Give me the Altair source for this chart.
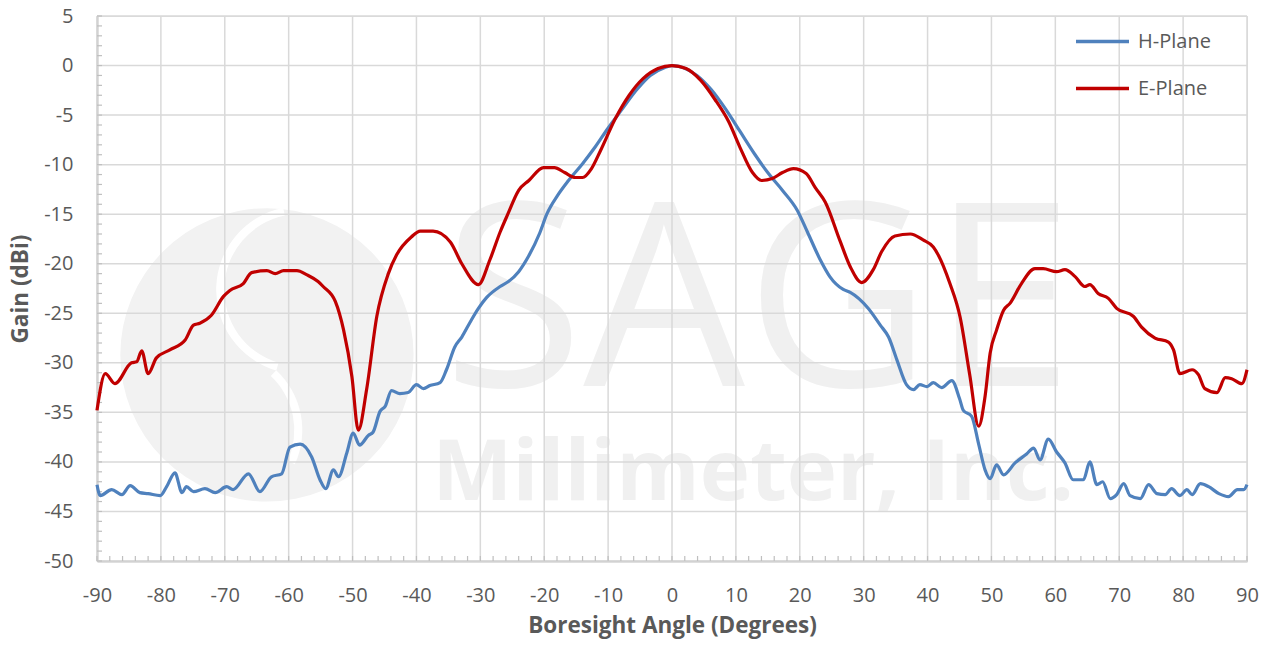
import altair as alt
import pandas as pd

# ---------------- data ----------------
h_angle = [-90, -89.5, -87.7, -86.1, -84.8, -83.3, -82.0, -80.1, -79.1, -77.8, -76.7, -76.0, -74.9,
           -73.1, -71.5, -69.7, -68.7, -66.3, -64.5, -62.7, -61.1, -59.8, -58.2, -56.4, -55.1, -54.2,
           -53.0, -52.2, -50.9, -49.9, -48.9, -47.5, -46.8, -45.7, -44.9, -43.9, -42.6, -41.3, -40.0,
           -38.9, -37.9, -36.3, -35.3, -34.0, -32.9, -31.6, -30.3, -29.0, -26.9, -25.6, -24.0, -22.5,
           -20.7, -19.6, -17.9, -16.2, -14.0, -12.0, -10.1, -7.8, -5.6, -3.4, -1.1, 0, 1.7, 3.9, 6.1,
           8.4, 10.6, 12.9, 15.1, 17.3, 19.6, 21.2, 23.2, 24.7, 26.8, 27.9, 30.7, 32.6, 33.9, 35.2,
           36.7, 37.8, 38.8, 39.9, 40.9, 42.2, 43.8, 45.0, 45.6, 46.9, 48.0, 49.0, 49.8, 50.8, 51.9,
           53.7, 55.5, 56.6, 57.6, 58.9, 60.2, 61.5, 62.8, 64.4, 65.4, 66.5, 67.4, 68.6, 69.6, 70.7,
           71.7, 73.3, 74.6, 75.9, 77.2, 78.2, 79.5, 80.6, 81.4, 82.7, 84.0, 85.6, 87.1, 88.5, 89.5, 90]
h_gain = [-42.3, -43.4, -42.8, -43.3, -42.4, -43.1, -43.2, -43.4, -42.5, -41.1, -43.1, -42.5, -43.0,
          -42.7, -43.1, -42.5, -42.8, -41.2, -43.0, -41.5, -41.2, -38.5, -38.2, -39.5, -41.8, -42.7,
          -40.8, -41.5, -39.1, -37.1, -38.3, -37.3, -37.0, -34.9, -34.4, -32.8, -33.1, -33.0, -32.2,
          -32.6, -32.3, -32.0, -30.7, -28.4, -27.4, -25.9, -24.5, -23.4, -22.3, -21.8, -20.8, -19.3,
          -16.9, -15.0, -13.1, -11.6, -9.9, -8.2, -6.4, -4.4, -2.5, -1.0, -0.2, 0.0, -0.2, -1.0, -2.4,
          -4.4, -6.6, -8.9, -10.9, -12.6, -14.6, -16.8, -19.6, -21.3, -22.6, -22.9, -24.5, -26.2, -27.4, -29.7,
          -32.2, -32.7, -32.2, -32.4, -32.0, -32.5, -31.8, -33.6, -34.8, -35.4, -38.2, -40.8, -41.7, -40.3, -41.3,
          -40.1, -39.2, -38.6, -39.8, -37.7, -39.0, -40.1, -41.8, -41.8, -40.0, -42.3, -42.0, -43.7, -43.3, -42.2,
          -43.4, -43.7, -42.3, -43.2, -43.3, -42.7, -43.4, -42.8, -43.3, -42.2, -42.5, -43.2, -43.5, -42.8, -42.8, -42.3]

e_angle = [-90, -88.7, -87.2, -84.6, -83.8, -83.0, -82.0, -80.7, -78.6, -76.2, -74.9, -73.9, -72.1,
           -70.2, -69.2, -67.1, -65.8, -63.4, -62.1, -60.8, -58.7, -57.2, -55.4, -54.6, -52.7, -51.4,
           -50.1, -49.1, -47.8, -46.2, -44.4, -43.1, -40.8, -39.4, -37.4, -34.7, -32.9, -30.3, -28.5,
           -26.9, -25.7, -24.0, -22.4, -20.1, -18.4, -16.8, -15.1, -14.0, -12.6, -11.2, -8.9, -6.7,
           -4.5, -2.2, 0, 2.2, 4.5, 6.7, 8.9, 10.6, 12.6, 14.0, 15.7, 17.3, 19.0, 21.0, 22.4, 24.0,
           26.3, 27.9, 29.7, 31.5, 32.8, 34.9, 37.3, 39.3, 40.9, 43.5, 45.1, 46.6, 48.0, 49.0, 49.8,
           50.8, 51.9, 52.9, 54.7, 56.8, 58.1, 60.2, 61.5, 63.1, 64.6, 65.4, 66.7, 68.3, 69.6, 72.2,
           73.5, 75.6, 77.7, 78.5, 79.5, 81.4, 82.4, 83.4, 85.3, 86.6, 87.6, 89.2, 90]
e_gain = [-34.8, -31.1, -32.1, -30.0, -29.9, -28.8, -31.1, -29.5, -28.7, -27.7, -26.2, -26.0, -25.2,
          -23.3, -22.7, -22.0, -20.9, -20.7, -21.0, -20.7, -20.7, -21.1, -21.8, -22.3, -23.8, -26.7,
          -31.4, -36.8, -32.7, -25.3, -21.0, -19.1, -17.3, -16.7, -16.7, -17.8, -20.0, -22.1, -19.6,
          -16.8, -15.0, -12.6, -11.6, -10.3, -10.3, -10.8, -11.3, -11.3, -10.4, -8.6, -5.4, -3.0,
          -1.3, -0.3, 0.0, -0.3, -1.5, -3.4, -5.7, -8.2, -10.8, -11.6, -11.4, -10.8, -10.4, -10.9, -12.3, -13.8,
          -17.7, -20.3, -21.9, -20.6, -18.8, -17.2, -17.0, -17.6, -18.3, -22.0, -25.4, -31.2, -36.4, -33.4, -29.0,
          -26.7, -24.7, -24.0, -22.0, -20.5, -20.5, -20.8, -20.6, -21.3, -22.3, -22.1, -23.0, -23.5, -24.5, -25.3,
          -26.4, -27.5, -27.9, -28.7, -31.1, -30.7, -31.2, -32.6, -33.0, -31.5, -31.6, -32.1, -30.7]

series_names = ["H-Plane", "E-Plane"]
x_major = list(range(-90, 91, 10))
y_major = list(range(-50, 6, 5))
x_minor = list(range(-90, 91, 2))
y_minor = list(range(-50, 6, 1))

watermark_texts = ["SAGE", "Millimeter, Inc."]

# ---------------- styling ----------------
series_colors = ["#4F81BD", "#C00000"]
FONT = "Open Sans"
TXT = "#595959"
GRID = "#d9d9d9"
AXIS = "#bfbfbf"
WM = "#f0f0f0"
W, H = 1150, 545

df = pd.concat([
    pd.DataFrame({"angle": h_angle, "gain": h_gain, "series": series_names[0]}),
    pd.DataFrame({"angle": e_angle, "gain": e_gain, "series": series_names[1]}),
], ignore_index=True)

xs = alt.Scale(domain=[-90, 90], nice=False, zero=False)
ys = alt.Scale(domain=[-50, 5], nice=False, zero=False)

x_axis = alt.Axis(
    values=x_major, title="Boresight Angle (Degrees)", grid=False, ticks=False,
    labelExpr="'' + datum.value",
    domainColor=AXIS, domainWidth=2, labelFont=FONT, labelFontSize=20, labelColor=TXT,
    labelPadding=24, labelFlush=False, titleFont=FONT, titleFontSize=22.5, titleFontWeight="bold",
    titleColor=TXT, titlePadding=9)
y_axis = alt.Axis(
    values=y_major, title="Gain (dBi)", grid=False, ticks=False,
    labelExpr="'' + datum.value",
    domainColor=AXIS, domainWidth=2, labelFont=FONT, labelFontSize=20, labelColor=TXT,
    labelPadding=24, labelFlush=False, titleFont=FONT, titleFontSize=22.5, titleFontWeight="bold",
    titleColor=TXT, titlePadding=11)


def X(field):
    return alt.X(field, scale=xs, axis=x_axis)


def Y(field):
    return alt.Y(field, scale=ys, axis=y_axis)


# watermark (decoration)
wm_logo = alt.Chart(pd.DataFrame({"a": [-63.4], "g": [-29.2]})).mark_point(
    shape="circle", filled=True, size=86000, color="#f2f2f2", opacity=1
).encode(x=X("a:Q"), y=Y("g:Q"))

wm_arc1 = alt.Chart(pd.DataFrame({"a": [-58.2], "g": [-22.65]})).mark_arc(
    color="white", radius=84, radius2=76, theta=3.43, theta2=6.08
).encode(x=X("a:Q"), y=Y("g:Q"))

wm_arc2 = alt.Chart(pd.DataFrame({"a": [-70.7], "g": [-36.8]})).mark_arc(
    color="white", radius=82, radius2=74, theta=0.75, theta2=2.0
).encode(x=X("a:Q"), y=Y("g:Q"))

wm_big = alt.Chart(pd.DataFrame({"a": [13.5], "g": [-32.3], "t": [watermark_texts[0]]})).mark_text(
    font=FONT, fontSize=256, fontWeight="normal", color=WM, align="center", baseline="alphabetic"
).encode(x=X("a:Q"), y=Y("g:Q"), text="t:N")

wm_small = alt.Chart(pd.DataFrame({"a": [12.7], "g": [-43.8], "t": [watermark_texts[1]]})).mark_text(
    font=FONT, fontSize=85, fontWeight="bold", color=WM, align="center", baseline="alphabetic"
).encode(x=X("a:Q"), y=Y("g:Q"), text="t:N")

# gridlines
grid_y = alt.Chart(pd.DataFrame({"v": y_major})).mark_rule(color=GRID, strokeWidth=1.5).encode(y=Y("v:Q"))
grid_x = alt.Chart(pd.DataFrame({"v": x_major})).mark_rule(color=GRID, strokeWidth=1.5).encode(x=X("v:Q"))

# inside minor ticks
tick_y = alt.Chart(pd.DataFrame({"v": y_minor})).mark_rule(color=AXIS, strokeWidth=1.2).encode(
    y=Y("v:Q"), x=alt.value(0), x2=alt.value(5))
tick_x = alt.Chart(pd.DataFrame({"v": x_minor})).mark_rule(color=AXIS, strokeWidth=1.2).encode(
    x=X("v:Q"), y=alt.value(H), y2=alt.value(H - 5))

lines = alt.Chart(df).mark_line(strokeWidth=3.2, interpolate="monotone").encode(
    x=X("angle:Q"),
    y=Y("gain:Q"),
    color=alt.Color("series:N", sort=series_names,
                    scale=alt.Scale(domain=series_names, range=series_colors),
                    legend=alt.Legend(title=None, orient="none", legendX=977, legendY=-3,
                                      symbolType="stroke", symbolStrokeWidth=3.5, symbolSize=2809,
                                      labelFont=FONT, labelFontSize=20, labelColor=TXT,
                                      labelOffset=7, rowPadding=8)),
    order=alt.Order("angle:Q"),
)

chart = alt.layer(wm_logo, wm_arc1, wm_arc2, wm_big, wm_small, grid_y, grid_x, tick_y, tick_x, lines).properties(
    width=W, height=H,
    autosize=alt.AutoSizeParams(type="none"),
    padding={"left": 89, "top": 8, "right": 12, "bottom": 78},
).configure_view(stroke=None).configure(background="white")

chart.save("out.html", embed_options={"renderer": "svg", "actions": False})
